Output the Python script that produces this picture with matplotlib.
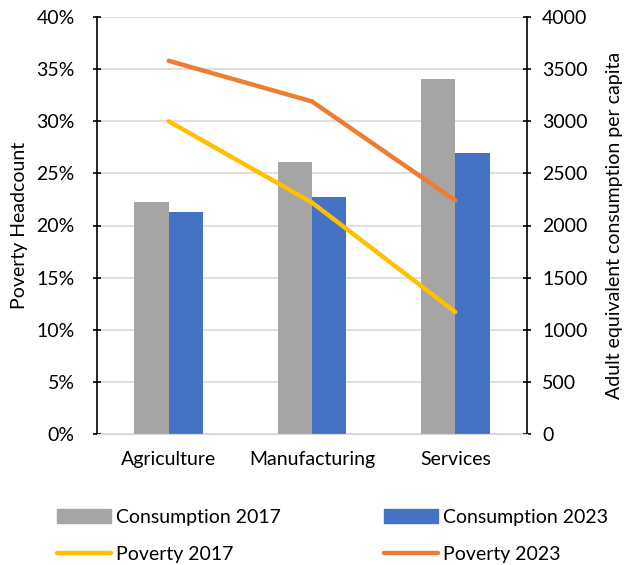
import matplotlib
matplotlib.use("Agg")
import matplotlib.pyplot as plt
import numpy as np
from matplotlib.patches import Patch
from matplotlib.lines import Line2D

plt.rcParams['font.family'] = ['Lato', 'DejaVu Sans']

categories = ["Agriculture", "Manufacturing", "Services"]
consumption_2017 = [2225, 2605, 3405]
consumption_2023 = [2130, 2270, 2695]
poverty_2017 = [30.0, 22.2, 11.7]
poverty_2023 = [35.8, 31.9, 22.4]
left_ticks = [0, 5, 10, 15, 20, 25, 30, 35, 40]
right_ticks = [0, 500, 1000, 1500, 2000, 2500, 3000, 3500, 4000]

GRAY = "#A5A5A5"
BLUE = "#4472C4"
YELLOW = "#FFC000"
ORANGE = "#ED7D31"
FS = 14

fig = plt.figure(figsize=(6.24, 5.65), dpi=100)
ax = fig.add_axes([97/624, 1-434/565, (527-97)/624, (434-17)/565])
ax2 = ax.twinx()

x = np.arange(len(categories))
w = 0.24
ax2.bar(x - w/2, consumption_2017, width=w, color=GRAY, zorder=2)
ax2.bar(x + w/2, consumption_2023, width=w, color=BLUE, zorder=2)
ax2.set_ylim(0, 4000)
ax2.set_yticks(right_ticks)
ax2.set_yticklabels([str(t) for t in right_ticks], fontsize=FS)
ax2.grid(axis='y', color='#D9D9D9', linewidth=1.2, zorder=0)
ax2.set_axisbelow(True)
ax2.set_ylabel("Adult equivalent consumption per capita", fontsize=FS, labelpad=13)

ax.plot(x, poverty_2017, color=YELLOW, linewidth=3.2, solid_capstyle='round', zorder=3)
ax.plot(x, poverty_2023, color=ORANGE, linewidth=3.2, solid_capstyle='round', zorder=3)
ax.set_ylim(0, 40)
ax.set_yticks(left_ticks)
ax.set_yticklabels([f"{t}%" for t in left_ticks], fontsize=FS)
ax.set_ylabel("Poverty Headcount", fontsize=FS, labelpad=6)
ax.set_xlim(-0.5, 2.5)
ax.set_xticks(x)
ax.set_xticklabels(categories, fontsize=FS)
ax.tick_params(axis='x', length=0, pad=12)
ax.set_zorder(ax2.get_zorder() + 1)
ax.patch.set_visible(False)

for a in (ax, ax2):
    a.spines['top'].set_visible(False)
    a.spines['bottom'].set_color('#D9D9D9')
    a.spines['left'].set_color('black')
    a.spines['right'].set_color('black')
    a.spines['left'].set_linewidth(1.2)
    a.spines['right'].set_linewidth(1.2)
ax.spines['right'].set_visible(False)
ax2.spines['left'].set_visible(False)
ax.tick_params(axis='y', direction='inout', length=6, width=1.2, pad=13)
ax2.tick_params(axis='y', direction='inout', length=6, width=1.2, pad=8)

handles = [Patch(color=GRAY, label="Consumption 2017"),
           Line2D([], [], color=YELLOW, linewidth=3.2, solid_capstyle='round', label="Poverty 2017"),
           Patch(color=BLUE, label="Consumption 2023"),
           Line2D([], [], color=ORANGE, linewidth=3.2, solid_capstyle='round', label="Poverty 2023")]
fig.legend(handles=handles, ncol=2, loc='center', bbox_to_anchor=(0.533, 1-536/565),
           frameon=False, fontsize=FS, handlelength=2.75, handleheight=0.7,
           handletextpad=0.28, columnspacing=5.3, labelspacing=1.05)

fig.savefig("out.png", dpi=100)
